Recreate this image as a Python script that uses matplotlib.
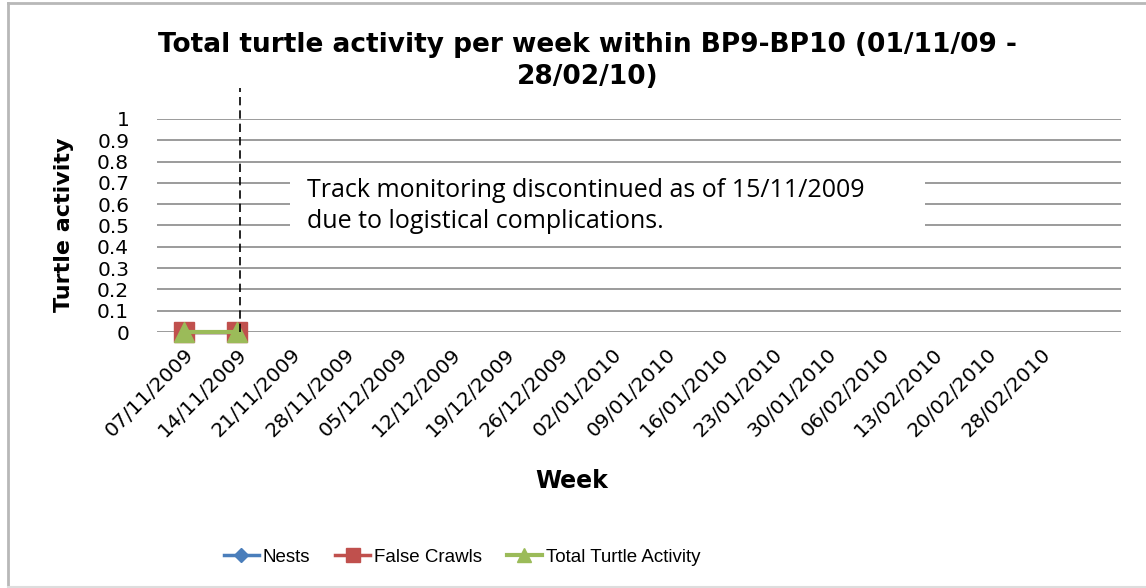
import numpy as np
import matplotlib.pyplot as plt
from matplotlib.lines import Line2D
from matplotlib.patches import Rectangle

# weekly categories (last slot has no label)
weeks = ["07/11/2009", "14/11/2009", "21/11/2009", "28/11/2009", "05/12/2009",
         "12/12/2009", "19/12/2009", "26/12/2009", "02/01/2010", "09/01/2010",
         "16/01/2010", "23/01/2010", "30/01/2010", "06/02/2010", "13/02/2010",
         "20/02/2010", "28/02/2010", ""]
nests = [0, 0] + [np.nan] * 16
false_crawls = [0, 0] + [np.nan] * 16
total_activity = [0, 0] + [np.nan] * 16
yticks = [0, 0.1, 0.2, 0.3, 0.4, 0.5, 0.6, 0.7, 0.8, 0.9, 1]
ytick_labels = ["0", "0.1", "0.2", "0.3", "0.4", "0.5", "0.6", "0.7", "0.8", "0.9", "1"]

note = "Track monitoring discontinued as of 15/11/2009\ndue to logistical complications."

plt.rcParams['font.family'] = ['DejaVu Sans']

W, H = 1146, 588
fig = plt.figure(figsize=(W / 100, H / 100), dpi=100)
ax = fig.add_axes([157 / W, 1 - 332 / H, 964 / W, 213 / H])

x = np.arange(len(weeks))

# grid lines
for v in yticks:
    ax.axhline(v, color="#8a8a8a", lw=1.2, zorder=1)

ax.plot(x, nests, color="#4a7ebb", marker="D", ms=10, lw=2.5, label="Nests",
        zorder=3, clip_on=False)
ax.plot(x, false_crawls, color="#c0504d", marker="s", ms=14.5, lw=2.5, label="False Crawls",
        zorder=4, clip_on=False)
ax.plot(x, total_activity, color="#9bbb59", marker="^", ms=15, lw=3, label="Total Turtle Activity",
        zorder=5, clip_on=False)

# dashed line marking end of monitoring
ax.plot([1.05, 1.05], [0, 1.146], color="black", lw=1.2, ls=(0, (5, 3)), clip_on=False, zorder=6)

# white box with the note
ax.add_patch(Rectangle((1.98, 0.455), 11.86, 0.3, facecolor="white", edgecolor="none", zorder=2))
ax.text(2.3, 0.59, note, fontsize=18, family=["Open Sans", "DejaVu Sans"],
        va="center", ha="left", linespacing=1.3, zorder=7)

ax.set_xlim(-0.5, len(weeks) - 0.5)
ax.set_ylim(0, 1)
ax.set_yticks(yticks)
ax.set_yticklabels(ytick_labels, fontsize=14.5)
ax.set_xticks(x)
ax.set_xticklabels(weeks, rotation=45, ha="right", rotation_mode="anchor", fontsize=14.5)
ax.tick_params(axis="x", length=0, pad=9)
ax.tick_params(axis="y", length=0, pad=20)
for s in ax.spines.values():
    s.set_visible(False)

ax.set_title("Total turtle activity per week within BP9-BP10 (01/11/09 -\n28/02/10)",
             fontsize=19, fontweight="bold", pad=25, x=0.447, linespacing=1.3)
ax.set_xlabel("Week", fontsize=17, fontweight="bold")
ax.xaxis.set_label_coords(0.43, -0.645)
ax.set_ylabel("Turtle activity", fontsize=16, fontweight="bold")
ax.yaxis.set_label_coords(-0.086, 0.505)

ax.legend(loc="center", bbox_to_anchor=(462 / W, 1 - 557 / H), bbox_transform=fig.transFigure,
          ncol=3, frameon=False, handlelength=1.9, columnspacing=1.3,
          handletextpad=0.2, markerscale=0.7,
          prop={"family": ["Liberation Sans", "DejaVu Sans"], "size": 13.5})

# chart border
fig.add_artist(Line2D([8 / W, 8 / W], [0, 1 - 3 / H], color="#b8b8b8", lw=2))
fig.add_artist(Line2D([8 / W, 1], [1 - 3 / H, 1 - 3 / H], color="#b8b8b8", lw=2))
fig.add_artist(Line2D([8 / W, 1], [1 / H, 1 / H], color="#dddddd", lw=1.5))

fig.savefig("out.png", dpi=100)
